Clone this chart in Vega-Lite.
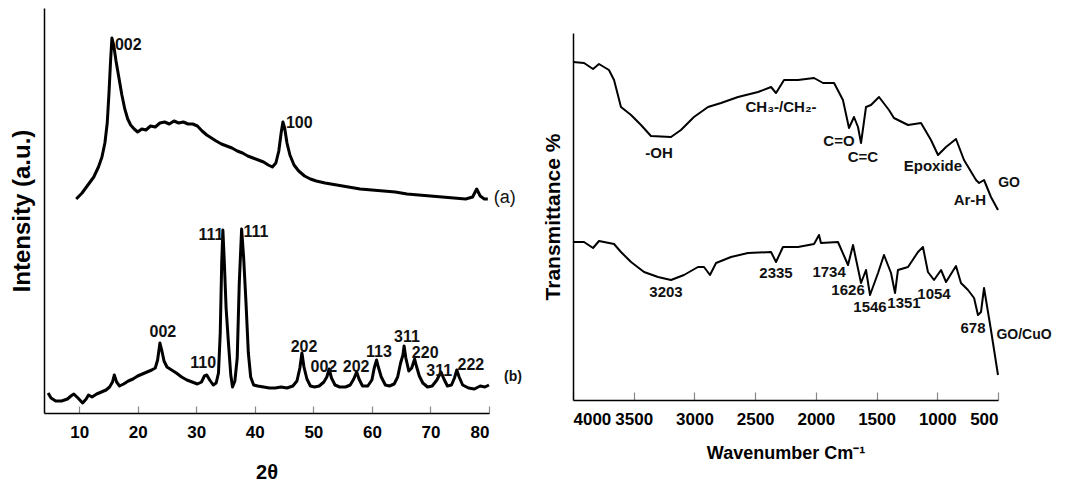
{
  "$schema": "https://vega.github.io/schema/vega-lite/v6.json",
  "background": "white",
  "padding": {"left": 10, "top": 8, "right": 5, "bottom": 2},
  "autosize": {"type": "pad"},
  "spacing": 20,
  "config": {
    "font": "Liberation Sans",
    "view": {"stroke": null},
    "axis": {"grid": false, "domainColor": "black", "domainWidth": 1.5, "tickColor": "#888888", "tickWidth": 1.2, "labelFont": "Liberation Sans", "labelFontWeight": "bold", "labelColor": "black", "titleColor": "black", "titleFontWeight": "bold", "titleFont": "Liberation Sans"}
  },
  "datasets": {
    "xrd": [
      {"s": "a", "theta": 9.5, "I": 214}, {"s": "a", "theta": 10.5, "I": 220}, {"s": "a", "theta": 11.5, "I": 228}, {"s": "a", "theta": 12.5, "I": 236},
      {"s": "a", "theta": 13.3, "I": 246}, {"s": "a", "theta": 13.9, "I": 256}, {"s": "a", "theta": 14.4, "I": 270}, {"s": "a", "theta": 14.8, "I": 290},
      {"s": "a", "theta": 15.1, "I": 320}, {"s": "a", "theta": 15.35, "I": 350}, {"s": "a", "theta": 15.6, "I": 375}, {"s": "a", "theta": 15.9, "I": 368},
      {"s": "a", "theta": 16.3, "I": 352}, {"s": "a", "theta": 16.8, "I": 335}, {"s": "a", "theta": 17.3, "I": 318}, {"s": "a", "theta": 17.8, "I": 304},
      {"s": "a", "theta": 18.3, "I": 294}, {"s": "a", "theta": 18.8, "I": 288}, {"s": "a", "theta": 19.4, "I": 284}, {"s": "a", "theta": 20.0, "I": 281},
      {"s": "a", "theta": 20.7, "I": 284}, {"s": "a", "theta": 21.4, "I": 283}, {"s": "a", "theta": 22.2, "I": 287}, {"s": "a", "theta": 23.0, "I": 286},
      {"s": "a", "theta": 23.8, "I": 290}, {"s": "a", "theta": 24.6, "I": 291}, {"s": "a", "theta": 25.4, "I": 289}, {"s": "a", "theta": 26.2, "I": 292},
      {"s": "a", "theta": 27.0, "I": 290}, {"s": "a", "theta": 27.8, "I": 291}, {"s": "a", "theta": 28.6, "I": 289}, {"s": "a", "theta": 29.4, "I": 289},
      {"s": "a", "theta": 30.2, "I": 287}, {"s": "a", "theta": 31.0, "I": 282}, {"s": "a", "theta": 31.8, "I": 278}, {"s": "a", "theta": 32.6, "I": 275},
      {"s": "a", "theta": 33.4, "I": 272}, {"s": "a", "theta": 34.3, "I": 269}, {"s": "a", "theta": 35.2, "I": 267}, {"s": "a", "theta": 36.1, "I": 265},
      {"s": "a", "theta": 37.0, "I": 262}, {"s": "a", "theta": 37.9, "I": 260}, {"s": "a", "theta": 38.8, "I": 257}, {"s": "a", "theta": 39.7, "I": 255},
      {"s": "a", "theta": 40.6, "I": 253}, {"s": "a", "theta": 41.5, "I": 251}, {"s": "a", "theta": 42.3, "I": 248}, {"s": "a", "theta": 43.0, "I": 246},
      {"s": "a", "theta": 43.6, "I": 250}, {"s": "a", "theta": 44.1, "I": 262}, {"s": "a", "theta": 44.5, "I": 280}, {"s": "a", "theta": 44.8, "I": 291},
      {"s": "a", "theta": 45.1, "I": 285}, {"s": "a", "theta": 45.5, "I": 270}, {"s": "a", "theta": 46.0, "I": 258}, {"s": "a", "theta": 46.7, "I": 248},
      {"s": "a", "theta": 47.5, "I": 242}, {"s": "a", "theta": 48.5, "I": 237}, {"s": "a", "theta": 49.5, "I": 234}, {"s": "a", "theta": 50.5, "I": 232},
      {"s": "a", "theta": 52, "I": 230}, {"s": "a", "theta": 54, "I": 228}, {"s": "a", "theta": 56, "I": 226}, {"s": "a", "theta": 58, "I": 224},
      {"s": "a", "theta": 60, "I": 223}, {"s": "a", "theta": 62, "I": 222}, {"s": "a", "theta": 64, "I": 221}, {"s": "a", "theta": 66, "I": 219},
      {"s": "a", "theta": 68, "I": 218}, {"s": "a", "theta": 70, "I": 217}, {"s": "a", "theta": 72, "I": 216}, {"s": "a", "theta": 74, "I": 215},
      {"s": "a", "theta": 76, "I": 214}, {"s": "a", "theta": 77.2, "I": 216}, {"s": "a", "theta": 77.9, "I": 224}, {"s": "a", "theta": 78.5, "I": 217},
      {"s": "a", "theta": 79.2, "I": 214}, {"s": "a", "theta": 79.8, "I": 214},

      {"s": "b", "theta": 4.7, "I": 20}, {"s": "b", "theta": 5.2, "I": 15}, {"s": "b", "theta": 6.0, "I": 12}, {"s": "b", "theta": 7.0, "I": 12},
      {"s": "b", "theta": 8.0, "I": 14}, {"s": "b", "theta": 8.6, "I": 17}, {"s": "b", "theta": 9.1, "I": 19}, {"s": "b", "theta": 9.8, "I": 15},
      {"s": "b", "theta": 10.6, "I": 10}, {"s": "b", "theta": 11.2, "I": 14}, {"s": "b", "theta": 11.6, "I": 18}, {"s": "b", "theta": 12.2, "I": 16},
      {"s": "b", "theta": 13.0, "I": 19}, {"s": "b", "theta": 13.8, "I": 21}, {"s": "b", "theta": 14.6, "I": 23}, {"s": "b", "theta": 15.2, "I": 26},
      {"s": "b", "theta": 15.7, "I": 31}, {"s": "b", "theta": 16.0, "I": 38}, {"s": "b", "theta": 16.4, "I": 31}, {"s": "b", "theta": 16.9, "I": 27},
      {"s": "b", "theta": 17.6, "I": 29}, {"s": "b", "theta": 18.4, "I": 32}, {"s": "b", "theta": 19.2, "I": 34}, {"s": "b", "theta": 20.0, "I": 37},
      {"s": "b", "theta": 20.8, "I": 39}, {"s": "b", "theta": 21.6, "I": 41}, {"s": "b", "theta": 22.4, "I": 43}, {"s": "b", "theta": 23.0, "I": 45},
      {"s": "b", "theta": 23.4, "I": 53}, {"s": "b", "theta": 23.8, "I": 70}, {"s": "b", "theta": 24.1, "I": 63}, {"s": "b", "theta": 24.5, "I": 52},
      {"s": "b", "theta": 25.0, "I": 46}, {"s": "b", "theta": 25.8, "I": 43}, {"s": "b", "theta": 26.6, "I": 40}, {"s": "b", "theta": 27.5, "I": 36},
      {"s": "b", "theta": 28.4, "I": 33}, {"s": "b", "theta": 29.3, "I": 31}, {"s": "b", "theta": 30.2, "I": 29}, {"s": "b", "theta": 30.9, "I": 31},
      {"s": "b", "theta": 31.4, "I": 37}, {"s": "b", "theta": 31.8, "I": 38}, {"s": "b", "theta": 32.3, "I": 33}, {"s": "b", "theta": 32.9, "I": 28},
      {"s": "b", "theta": 33.4, "I": 30}, {"s": "b", "theta": 33.8, "I": 40}, {"s": "b", "theta": 34.1, "I": 80}, {"s": "b", "theta": 34.35, "I": 150},
      {"s": "b", "theta": 34.55, "I": 183}, {"s": "b", "theta": 34.8, "I": 150}, {"s": "b", "theta": 35.1, "I": 105}, {"s": "b", "theta": 35.5, "I": 70},
      {"s": "b", "theta": 35.9, "I": 38}, {"s": "b", "theta": 36.2, "I": 26}, {"s": "b", "theta": 36.6, "I": 32}, {"s": "b", "theta": 37.0, "I": 55},
      {"s": "b", "theta": 37.35, "I": 130}, {"s": "b", "theta": 37.75, "I": 184}, {"s": "b", "theta": 38.1, "I": 155}, {"s": "b", "theta": 38.5, "I": 110},
      {"s": "b", "theta": 38.9, "I": 60}, {"s": "b", "theta": 39.3, "I": 36}, {"s": "b", "theta": 39.8, "I": 28}, {"s": "b", "theta": 40.5, "I": 27},
      {"s": "b", "theta": 41.5, "I": 26}, {"s": "b", "theta": 42.5, "I": 25}, {"s": "b", "theta": 43.5, "I": 25}, {"s": "b", "theta": 44.5, "I": 26},
      {"s": "b", "theta": 45.5, "I": 25}, {"s": "b", "theta": 46.5, "I": 27}, {"s": "b", "theta": 47.2, "I": 32}, {"s": "b", "theta": 47.7, "I": 45},
      {"s": "b", "theta": 48.05, "I": 60}, {"s": "b", "theta": 48.4, "I": 46}, {"s": "b", "theta": 48.9, "I": 34}, {"s": "b", "theta": 49.5, "I": 27},
      {"s": "b", "theta": 50.2, "I": 26}, {"s": "b", "theta": 51.0, "I": 27}, {"s": "b", "theta": 51.8, "I": 31}, {"s": "b", "theta": 52.3, "I": 36},
      {"s": "b", "theta": 52.7, "I": 44}, {"s": "b", "theta": 53.1, "I": 35}, {"s": "b", "theta": 53.7, "I": 28}, {"s": "b", "theta": 54.5, "I": 26},
      {"s": "b", "theta": 55.5, "I": 26}, {"s": "b", "theta": 56.3, "I": 28}, {"s": "b", "theta": 56.9, "I": 34}, {"s": "b", "theta": 57.4, "I": 41},
      {"s": "b", "theta": 57.8, "I": 34}, {"s": "b", "theta": 58.4, "I": 27}, {"s": "b", "theta": 59.3, "I": 27}, {"s": "b", "theta": 60.0, "I": 33},
      {"s": "b", "theta": 60.4, "I": 45}, {"s": "b", "theta": 60.8, "I": 53}, {"s": "b", "theta": 61.1, "I": 46}, {"s": "b", "theta": 61.6, "I": 36},
      {"s": "b", "theta": 62.3, "I": 28}, {"s": "b", "theta": 63.0, "I": 27}, {"s": "b", "theta": 63.8, "I": 29}, {"s": "b", "theta": 64.4, "I": 36},
      {"s": "b", "theta": 64.9, "I": 50}, {"s": "b", "theta": 65.3, "I": 58}, {"s": "b", "theta": 65.5, "I": 67}, {"s": "b", "theta": 65.8, "I": 55},
      {"s": "b", "theta": 66.3, "I": 42}, {"s": "b", "theta": 66.8, "I": 45}, {"s": "b", "theta": 67.3, "I": 54}, {"s": "b", "theta": 67.6, "I": 47},
      {"s": "b", "theta": 68.1, "I": 37}, {"s": "b", "theta": 68.7, "I": 30}, {"s": "b", "theta": 69.5, "I": 26}, {"s": "b", "theta": 70.3, "I": 27},
      {"s": "b", "theta": 71.1, "I": 33}, {"s": "b", "theta": 71.8, "I": 41}, {"s": "b", "theta": 72.3, "I": 34}, {"s": "b", "theta": 72.9, "I": 27},
      {"s": "b", "theta": 73.6, "I": 28}, {"s": "b", "theta": 74.1, "I": 35}, {"s": "b", "theta": 74.5, "I": 43}, {"s": "b", "theta": 74.9, "I": 36},
      {"s": "b", "theta": 75.5, "I": 28}, {"s": "b", "theta": 76.5, "I": 25}, {"s": "b", "theta": 77.5, "I": 24}, {"s": "b", "theta": 78.5, "I": 27},
      {"s": "b", "theta": 79.3, "I": 26}, {"s": "b", "theta": 80.0, "I": 28}
    ],
    "xrdLabels": [
      {"kind": "peak", "theta": 18.4, "I": 368, "label": "002"},
      {"kind": "peak", "theta": 47.6, "I": 290, "label": "100"},
      {"kind": "peak", "theta": 24.3, "I": 81, "label": "002"},
      {"kind": "peak", "theta": 31.2, "I": 50, "label": "110"},
      {"kind": "peak", "theta": 32.5, "I": 178, "label": "111"},
      {"kind": "peak", "theta": 40.2, "I": 181, "label": "111"},
      {"kind": "peak", "theta": 48.4, "I": 66, "label": "202"},
      {"kind": "peak", "theta": 51.8, "I": 46, "label": "002"},
      {"kind": "peak", "theta": 57.3, "I": 46, "label": "202"},
      {"kind": "peak", "theta": 61.2, "I": 61, "label": "113"},
      {"kind": "peak", "theta": 66.0, "I": 76, "label": "311"},
      {"kind": "peak", "theta": 69.1, "I": 60, "label": "220"},
      {"kind": "peak", "theta": 71.5, "I": 42, "label": "311"},
      {"kind": "peak", "theta": 76.9, "I": 48, "label": "222"},
      {"kind": "sampleA", "theta": 82.7, "I": 215, "label": "(a)"},
      {"kind": "sampleB", "theta": 84.1, "I": 36, "label": "(b)"}
    ],
    "ir": [
      {"s": "GO", "wn": 4000, "T": 338}, {"s": "GO", "wn": 3909, "T": 337}, {"s": "GO", "wn": 3835, "T": 331}, {"s": "GO", "wn": 3786, "T": 336},
      {"s": "GO", "wn": 3704, "T": 330}, {"s": "GO", "wn": 3662, "T": 320}, {"s": "GO", "wn": 3605, "T": 293}, {"s": "GO", "wn": 3522, "T": 285},
      {"s": "GO", "wn": 3440, "T": 275}, {"s": "GO", "wn": 3358, "T": 264}, {"s": "GO", "wn": 3193, "T": 263}, {"s": "GO", "wn": 3111, "T": 270},
      {"s": "GO", "wn": 3004, "T": 283}, {"s": "GO", "wn": 2888, "T": 293}, {"s": "GO", "wn": 2781, "T": 297}, {"s": "GO", "wn": 2641, "T": 303},
      {"s": "GO", "wn": 2476, "T": 308}, {"s": "GO", "wn": 2369, "T": 313}, {"s": "GO", "wn": 2328, "T": 307}, {"s": "GO", "wn": 2262, "T": 320},
      {"s": "GO", "wn": 2147, "T": 320}, {"s": "GO", "wn": 2015, "T": 322}, {"s": "GO", "wn": 1941, "T": 317}, {"s": "GO", "wn": 1850, "T": 317},
      {"s": "GO", "wn": 1777, "T": 300}, {"s": "GO", "wn": 1727, "T": 272}, {"s": "GO", "wn": 1686, "T": 283}, {"s": "GO", "wn": 1653, "T": 273},
      {"s": "GO", "wn": 1628, "T": 257}, {"s": "GO", "wn": 1587, "T": 293}, {"s": "GO", "wn": 1546, "T": 295}, {"s": "GO", "wn": 1480, "T": 303},
      {"s": "GO", "wn": 1398, "T": 290}, {"s": "GO", "wn": 1357, "T": 282}, {"s": "GO", "wn": 1241, "T": 275}, {"s": "GO", "wn": 1134, "T": 277},
      {"s": "GO", "wn": 1052, "T": 260}, {"s": "GO", "wn": 994, "T": 245}, {"s": "GO", "wn": 928, "T": 253}, {"s": "GO", "wn": 846, "T": 261},
      {"s": "GO", "wn": 780, "T": 240}, {"s": "GO", "wn": 681, "T": 220}, {"s": "GO", "wn": 656, "T": 217}, {"s": "GO", "wn": 615, "T": 220},
      {"s": "GO", "wn": 558, "T": 203}, {"s": "GO", "wn": 500, "T": 190},

      {"s": "GO/CuO", "wn": 4000, "T": 158}, {"s": "GO/CuO", "wn": 3909, "T": 158}, {"s": "GO/CuO", "wn": 3835, "T": 152}, {"s": "GO/CuO", "wn": 3786, "T": 159},
      {"s": "GO/CuO", "wn": 3662, "T": 156}, {"s": "GO/CuO", "wn": 3605, "T": 148}, {"s": "GO/CuO", "wn": 3522, "T": 138}, {"s": "GO/CuO", "wn": 3415, "T": 128},
      {"s": "GO/CuO", "wn": 3300, "T": 123}, {"s": "GO/CuO", "wn": 3193, "T": 120}, {"s": "GO/CuO", "wn": 3086, "T": 125}, {"s": "GO/CuO", "wn": 2971, "T": 133},
      {"s": "GO/CuO", "wn": 2921, "T": 133}, {"s": "GO/CuO", "wn": 2872, "T": 125}, {"s": "GO/CuO", "wn": 2822, "T": 137}, {"s": "GO/CuO", "wn": 2699, "T": 143},
      {"s": "GO/CuO", "wn": 2559, "T": 147}, {"s": "GO/CuO", "wn": 2369, "T": 148}, {"s": "GO/CuO", "wn": 2328, "T": 138}, {"s": "GO/CuO", "wn": 2271, "T": 153},
      {"s": "GO/CuO", "wn": 2147, "T": 153}, {"s": "GO/CuO", "wn": 2015, "T": 156}, {"s": "GO/CuO", "wn": 1974, "T": 165}, {"s": "GO/CuO", "wn": 1958, "T": 157},
      {"s": "GO/CuO", "wn": 1818, "T": 158}, {"s": "GO/CuO", "wn": 1735, "T": 135}, {"s": "GO/CuO", "wn": 1694, "T": 155}, {"s": "GO/CuO", "wn": 1628, "T": 117},
      {"s": "GO/CuO", "wn": 1587, "T": 130}, {"s": "GO/CuO", "wn": 1554, "T": 105}, {"s": "GO/CuO", "wn": 1488, "T": 127}, {"s": "GO/CuO", "wn": 1439, "T": 145},
      {"s": "GO/CuO", "wn": 1381, "T": 127}, {"s": "GO/CuO", "wn": 1348, "T": 107}, {"s": "GO/CuO", "wn": 1324, "T": 130}, {"s": "GO/CuO", "wn": 1241, "T": 133},
      {"s": "GO/CuO", "wn": 1159, "T": 148}, {"s": "GO/CuO", "wn": 1118, "T": 153}, {"s": "GO/CuO", "wn": 1077, "T": 128}, {"s": "GO/CuO", "wn": 1027, "T": 120},
      {"s": "GO/CuO", "wn": 969, "T": 130}, {"s": "GO/CuO", "wn": 928, "T": 118}, {"s": "GO/CuO", "wn": 846, "T": 134}, {"s": "GO/CuO", "wn": 805, "T": 117},
      {"s": "GO/CuO", "wn": 747, "T": 110}, {"s": "GO/CuO", "wn": 697, "T": 102}, {"s": "GO/CuO", "wn": 665, "T": 85}, {"s": "GO/CuO", "wn": 640, "T": 88},
      {"s": "GO/CuO", "wn": 615, "T": 112}, {"s": "GO/CuO", "wn": 558, "T": 70}, {"s": "GO/CuO", "wn": 500, "T": 25}
    ],
    "irLabels": [
      {"kind": "band", "wn": 3292, "T": 247, "label": "-OH"},
      {"kind": "band", "wn": 2287, "T": 293, "label": "CH₃-/CH₂-"},
      {"kind": "band", "wn": 1810, "T": 259, "label": "C=O"},
      {"kind": "band", "wn": 1612, "T": 243, "label": "C=C"},
      {"kind": "band", "wn": 1036, "T": 234, "label": "Epoxide"},
      {"kind": "band", "wn": 731, "T": 200, "label": "Ar-H"},
      {"kind": "band", "wn": 3234, "T": 108, "label": "3203"},
      {"kind": "band", "wn": 2328, "T": 127, "label": "2335"},
      {"kind": "band", "wn": 1891, "T": 128, "label": "1734"},
      {"kind": "band", "wn": 1735, "T": 110, "label": "1626"},
      {"kind": "band", "wn": 1554, "T": 93, "label": "1546"},
      {"kind": "band", "wn": 1274, "T": 97, "label": "1351"},
      {"kind": "band", "wn": 1027, "T": 106, "label": "1054"},
      {"kind": "band", "wn": 706, "T": 72, "label": "678"},
      {"kind": "sample", "wn": 409, "T": 217, "label": "GO"},
      {"kind": "sample", "wn": 286, "T": 65, "label": "GO/CuO"}
    ]
  },
  "hconcat": [
    {
      "width": 445,
      "height": 405,
      "layer": [
        {
          "data": {"name": "xrd"},
          "mark": {"type": "line", "color": "black", "strokeWidth": 3, "strokeJoin": "round"},
          "encoding": {
            "x": {"field": "theta", "type": "quantitative", "scale": {"domain": [4, 80], "nice": false, "zero": false},
                  "axis": {"title": "2θ", "values": [10, 20, 30, 40, 50, 60, 70, 80], "tickSize": -7, "labelPadding": 18, "labelFontSize": 17, "titleFontSize": 20, "titlePadding": 22}},
            "y": {"field": "I", "type": "quantitative", "scale": {"domain": [0, 405], "nice": false},
                  "axis": {"title": "Intensity (a.u.)", "ticks": false, "labels": false, "titleFontSize": 24, "titlePadding": 10}},
            "detail": {"field": "s"}
          }
        },
        {
          "data": {"name": "xrdLabels"},
          "transform": [{"filter": "datum.kind === 'peak'"}],
          "mark": {"type": "text", "fontSize": 16, "fontWeight": "bold", "color": "#111"},
          "encoding": {
            "x": {"field": "theta", "type": "quantitative"},
            "y": {"field": "I", "type": "quantitative"},
            "text": {"field": "label"}
          }
        },
        {
          "data": {"name": "xrdLabels"},
          "transform": [{"filter": "datum.kind === 'sampleA'"}],
          "mark": {"type": "text", "fontSize": 18, "color": "#111"},
          "encoding": {
            "x": {"field": "theta", "type": "quantitative"},
            "y": {"field": "I", "type": "quantitative"},
            "text": {"field": "label"}
          }
        },
        {
          "data": {"name": "xrdLabels"},
          "transform": [{"filter": "datum.kind === 'sampleB'"}],
          "mark": {"type": "text", "fontSize": 14, "fontWeight": "bold", "color": "#111"},
          "encoding": {
            "x": {"field": "theta", "type": "quantitative"},
            "y": {"field": "I", "type": "quantitative"},
            "text": {"field": "label"}
          }
        }
      ]
    },
    {
      "width": 425,
      "height": 392,
      "layer": [
        {
          "data": {"name": "ir"},
          "mark": {"type": "line", "color": "black", "strokeWidth": 2, "strokeJoin": "round"},
          "encoding": {
            "x": {"field": "wn", "type": "quantitative", "scale": {"domain": [500, 4000], "reverse": true, "nice": false, "zero": false},
                  "axis": {"title": "Wavenumber Cm⁻¹", "values": [4000, 3500, 3000, 2500, 2000, 1500, 1000, 500], "format": "d", "tickSize": -8, "labelPadding": 19, "labelFontSize": 17, "titleFontSize": 18, "titlePadding": 17}},
            "y": {"field": "T", "type": "quantitative", "scale": {"domain": [0, 367], "nice": false, "range": [392, 25]},
                  "axis": {"title": "Transmittance %", "ticks": false, "labels": false, "titleFontSize": 21, "titlePadding": 10}},
            "detail": {"field": "s"}
          }
        },
        {
          "data": {"name": "irLabels"},
          "transform": [{"filter": "datum.kind === 'band'"}],
          "mark": {"type": "text", "fontSize": 15, "fontWeight": "bold", "color": "#111"},
          "encoding": {
            "x": {"field": "wn", "type": "quantitative"},
            "y": {"field": "T", "type": "quantitative"},
            "text": {"field": "label"}
          }
        },
        {
          "data": {"name": "irLabels"},
          "transform": [{"filter": "datum.kind === 'sample'"}],
          "mark": {"type": "text", "fontSize": 14, "fontWeight": "bold", "color": "#111"},
          "encoding": {
            "x": {"field": "wn", "type": "quantitative"},
            "y": {"field": "T", "type": "quantitative"},
            "text": {"field": "label"}
          }
        }
      ]
    }
  ]
}
